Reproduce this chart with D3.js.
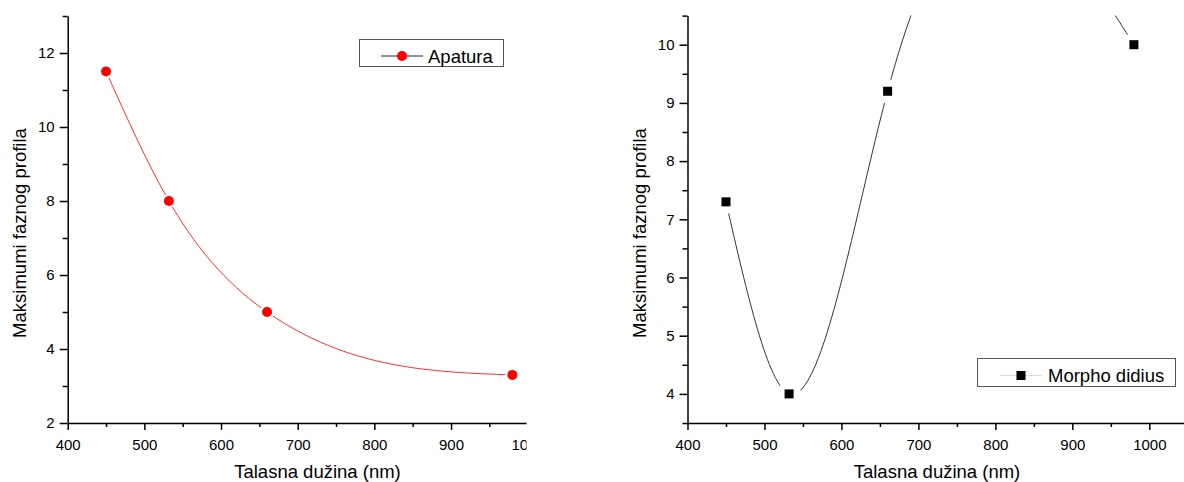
<!DOCTYPE html>
<html>
<head>
<meta charset="utf-8">
<script src="https://cdn.jsdelivr.net/npm/d3@7"></script>
<style>
  html, body { margin: 0; padding: 0; background: #fff; }
  svg { display: block; font-family: "Liberation Sans", Arial, sans-serif; }
  .axis path, .axis line { stroke: #000; stroke-width: 1.5; }
  .axis text { font-size: 15px; fill: #000; }
  .title { font-size: 18.5px; fill: #000; }
  .legend-text { font-size: 18.5px; fill: #000; }
</style>
</head>
<body>
<div id="graph"></div>
<script>
// wavelength (nm) and phase profile maxima
var wavelengths = [450, 532, 660, 980];
var apatura = [11.5, 8.0, 5.0, 3.3];
var morphoDidius = [7.3, 4.0, 9.2, 10.0];

var xTicksLeft = [400, 500, 600, 700, 800, 900, 1000];
var xMinorLeft = [450, 550, 650, 750, 850, 950];
var xTicksRight = [400, 500, 600, 700, 800, 900, 1000];
var xMinorRight = [450, 550, 650, 750, 850, 950, 1050];
var yTicksLeft = [2, 4, 6, 8, 10, 12];
var yMinorLeft = [3, 5, 7, 9, 11, 13];
var yTicksRight = [4, 5, 6, 7, 8, 9, 10];
var yMinorRight = [3.5, 4.5, 5.5, 6.5, 7.5, 8.5, 9.5, 10.5];

var width = 1184;
var height = 482;
var fmt = d3.format("d");

// natural cubic spline y(x) drawn as bezier pieces (like Origin's spline connect)
function NaturalX(context) { this._context = context; }
NaturalX.prototype = {
    areaStart: function () { this._line = 0; },
    areaEnd: function () { this._line = NaN; },
    lineStart: function () { this._x = []; this._y = []; },
    point: function (x, y) { this._x.push(+x); this._y.push(+y); },
    lineEnd: function () {
        var x = this._x, y = this._y, n = x.length, c = this._context;
        if (!n) return;
        c.moveTo(x[0], y[0]);
        if (n < 3) { for (var k = 1; k < n; k++) c.lineTo(x[k], y[k]); return; }
        var h = [], d = [], i;
        for (i = 0; i < n - 1; i++) { h.push(x[i + 1] - x[i]); d.push((y[i + 1] - y[i]) / h[i]); }
        // tridiagonal solve for second derivatives, ends = 0
        var a = [], b = [], r = [], cc = [], m = new Array(n).fill(0);
        for (i = 1; i < n - 1; i++) {
            a.push(h[i - 1]); b.push(2 * (h[i - 1] + h[i])); cc.push(h[i]);
            r.push(6 * (d[i] - d[i - 1]));
        }
        var k2 = b.length;
        for (i = 1; i < k2; i++) {
            var w = a[i] / b[i - 1];
            b[i] -= w * cc[i - 1];
            r[i] -= w * r[i - 1];
        }
        var sol = new Array(k2);
        sol[k2 - 1] = r[k2 - 1] / b[k2 - 1];
        for (i = k2 - 2; i >= 0; i--) sol[i] = (r[i] - cc[i] * sol[i + 1]) / b[i];
        for (i = 0; i < k2; i++) m[i + 1] = sol[i];
        for (i = 0; i < n - 1; i++) {
            var s0 = d[i] - h[i] * (2 * m[i] + m[i + 1]) / 6;
            var s1 = d[i] + h[i] * (m[i] + 2 * m[i + 1]) / 6;
            c.bezierCurveTo(x[i] + h[i] / 3, y[i] + s0 * h[i] / 3,
                x[i + 1] - h[i] / 3, y[i + 1] - s1 * h[i] / 3,
                x[i + 1], y[i + 1]);
        }
    }
};
var curveNaturalX = function (context) { return new NaturalX(context); };

var svg = d3.select("#graph").
append("svg").
attr("width", width).
attr("height", height);

var defs = svg.append("defs");

function drawPanel(p) {
    var x = d3.scaleLinear().domain(p.xDomain).range(p.xRange);
    var y = d3.scaleLinear().domain(p.yDomain).range([423, p.yTop]);

    defs.append("clipPath").attr("id", p.id + "-panel").
    append("rect").attr("x", p.panelX0).attr("y", 0).
    attr("width", p.panelX1 - p.panelX0).attr("height", height);

    defs.append("clipPath").attr("id", p.id + "-plot").
    append("rect").attr("x", p.xRange[0]).attr("y", p.yTop).
    attr("width", p.panelX1 - p.xRange[0]).attr("height", 423 - p.yTop);

    var g = svg.append("g").attr("clip-path", "url(#" + p.id + "-panel)");

    // minor ticks
    g.append("g").attr("class", "axis").
    attr("transform", "translate(0,423)").
    call(d3.axisBottom(x).tickValues(p.xMinor).tickSize(4).tickFormat("")).
    call(function (s) { s.select(".domain").remove(); });
    g.append("g").attr("class", "axis").
    attr("transform", "translate(" + p.xRange[0] + ",0)").
    call(d3.axisLeft(y).tickValues(p.yMinor).tickSize(5).tickFormat("")).
    call(function (s) { s.select(".domain").remove(); });

    // major axes
    g.append("g").attr("class", "axis").
    attr("transform", "translate(0,423)").
    call(d3.axisBottom(x).tickValues(p.xTicks).tickFormat(fmt).tickSize(7).tickPadding(9).tickSizeOuter(0));
    g.append("g").attr("class", "axis").
    attr("transform", "translate(" + p.xRange[0] + ",0)").
    call(d3.axisLeft(y).tickValues(p.yTicks).tickFormat(fmt).tickSize(8).tickPadding(5).tickSizeOuter(0));

    // axis titles
    g.append("text").attr("class", "title").
    attr("x", p.xTitleX).attr("y", 478).
    attr("text-anchor", "middle").
    text("Talasna dužina (nm)");
    g.append("text").attr("class", "title").
    attr("transform", "translate(" + p.yTitleX + ",233) rotate(-90)").
    attr("text-anchor", "middle").
    text("Maksimumi faznog profila");

    var pts = wavelengths.map(function (w, i) { return [w, p.values[i]]; });

    var plot = g.append("g").attr("clip-path", "url(#" + p.id + "-plot)");
    plot.append("path").
    datum(pts).
    attr("fill", "none").
    attr("stroke", p.lineColor).
    attr("stroke-width", 1).
    attr("d", d3.line().
    x(function (e) { return x(e[0]); }).
    y(function (e) { return y(e[1]); }).
    curve(curveNaturalX));

    // gaps round the symbols
    plot.selectAll("circle.gap").data(pts).enter().
    append("circle").attr("class", "gap").
    attr("cx", function (e) { return x(e[0]); }).
    attr("cy", function (e) { return y(e[1]); }).
    attr("r", p.gap).attr("fill", "#fff");

    if (p.symbol === "circle") {
        plot.selectAll("circle.pt").data(pts).enter().
        append("circle").attr("class", "pt").
        attr("cx", function (e) { return x(e[0]); }).
        attr("cy", function (e) { return y(e[1]); }).
        attr("r", 5).attr("fill", p.symbolColor);
    } else {
        plot.selectAll("rect.pt").data(pts).enter().
        append("rect").attr("class", "pt").
        attr("x", function (e) { return x(e[0]) - 4.5; }).
        attr("y", function (e) { return y(e[1]) - 4.5; }).
        attr("width", 9).attr("height", 9).attr("fill", p.symbolColor);
    }

    // legend
    var L = p.legend;
    var lg = g.append("g");
    lg.append("rect").
    attr("x", L.x0 + 0.5).attr("y", L.y0 + 0.5).
    attr("width", L.x1 - L.x0).attr("height", L.y1 - L.y0).
    attr("fill", "#fff").attr("stroke", "#555").attr("stroke-width", 1);
    lg.append("line").
    attr("x1", L.lineX0).attr("x2", L.lineX1).
    attr("y1", L.lineY).attr("y2", L.lineY).
    attr("stroke", L.lineColor).attr("stroke-width", 1);
    var mx = (L.lineX0 + L.lineX1) / 2;
    if (p.symbol === "circle") {
        lg.append("circle").attr("cx", mx).attr("cy", L.lineY).attr("r", 5).attr("fill", p.symbolColor);
    } else {
        lg.append("rect").attr("x", mx - 4.5).attr("y", L.lineY - 4.5).
        attr("width", 9).attr("height", 9).attr("fill", p.symbolColor);
    }
    lg.append("text").attr("class", "legend-text").
    attr("x", L.textX).attr("y", L.textY).
    text(p.name);
}

drawPanel({
    id: "left",
    name: "Apatura",
    values: apatura,
    xDomain: [400, 1000], xRange: [67.7, 527.7],
    yDomain: [2, 13], yTop: 16,
    xTicks: xTicksLeft, xMinor: xMinorLeft,
    yTicks: yTicksLeft, yMinor: yMinorLeft,
    panelX0: 0, panelX1: 526.5,
    xTitleX: 317.5, yTitleX: 26,
    lineColor: "#ff3030", symbol: "circle", symbolColor: "#ff0000", gap: 7,
    legend: { x0: 359, x1: 503, y0: 39, y1: 66, lineX0: 381, lineX1: 423, lineY: 56,
        lineColor: "#222", textX: 428, textY: 63 }
});

drawPanel({
    id: "right",
    name: "Morpho didius",
    values: morphoDidius,
    xDomain: [400, 1050], xRange: [687.5, 1187.8],
    yDomain: [3.5, 10.5], yTop: 15.6,
    xTicks: xTicksRight, xMinor: xMinorRight,
    yTicks: yTicksRight, yMinor: yMinorRight,
    panelX0: 560, panelX1: 1184,
    xTitleX: 937, yTitleX: 646,
    lineColor: "#333", symbol: "square", symbolColor: "#000", gap: 12,
    legend: { x0: 977, x1: 1175, y0: 358, y1: 386, lineX0: 1000, lineX1: 1042, lineY: 375.5,
        lineColor: "#ddd", textX: 1048, textY: 382 }
});
</script>
</body>
</html>
